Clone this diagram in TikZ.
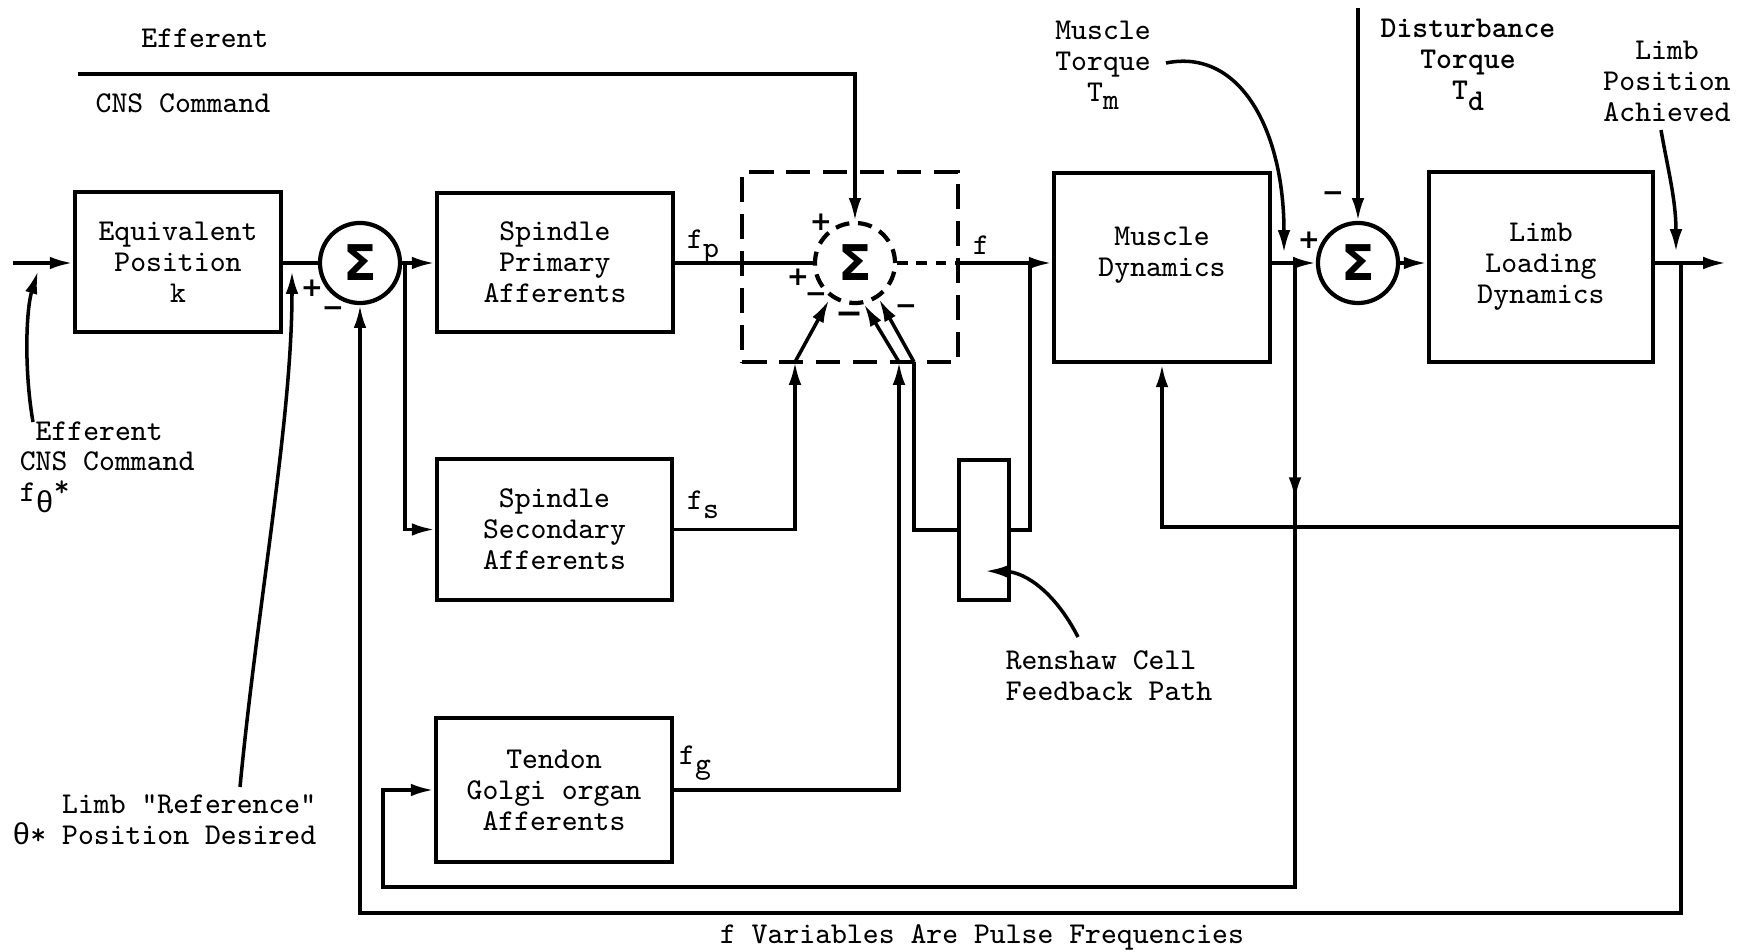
\documentclass[tikz,border=0pt]{standalone}
\usepackage{fontspec}
\newfontfamily\sigfont{DejaVu Sans}
\newfontfamily\gkfont{Liberation Mono}
\usetikzlibrary{arrows.meta,calc}
\begin{document}
\begin{tikzpicture}[x=0.01cm,y=-0.01cm,
  line width=1pt,
  every node/.style={font=\ttfamily\fontsize{8.6}{8.8}\selectfont, inner sep=0pt},
  blk/.style={draw, line width=1.3pt, align=center},
  sumc/.style={circle, draw, line width=1.2pt, minimum size=0.8cm, inner sep=0pt, font=\sigfont\bfseries\fontsize{14}{14}\selectfont},
  arr/.style={-{Latex[length=6.5pt,width=3.6pt]}},
  sgn/.style={font=\sigfont\bfseries\fontsize{7.5}{7.5}\selectfont},
  bigsgn/.style={font=\sigfont\bfseries\fontsize{9.5}{9.5}\selectfont},
  dashbox/.style={draw, line width=1.2pt, dash pattern=on 7pt off 3.5pt}
]
\useasboundingbox (0,0) rectangle (1750,952);

% blocks
\node[blk, minimum width=2.06cm, minimum height=1.40cm] (eq) at (178,262) {Equivalent\\Position\\k};
\node[blk, minimum width=2.36cm, minimum height=1.39cm] (spp) at (555,262.5) {Spindle\\Primary\\Afferents};
\node[blk, minimum width=2.35cm, minimum height=1.41cm] (sps) at (554.5,529.5) {Spindle\\Secondary\\Afferents};
\node[blk, minimum width=2.36cm, minimum height=1.44cm] (tgo) at (554,790) {Tendon\\Golgi organ\\Afferents};
\node[blk, minimum width=2.16cm, minimum height=1.89cm] (md) at (1162,267.5) {Muscle\\Dynamics\\\ };
\node[blk, minimum width=2.24cm, minimum height=1.90cm] (ll) at (1541,267) {Limb\\Loading\\Dynamics};
\node[blk, minimum width=0.50cm, minimum height=1.40cm] (rs) at (984,530) {};
\node[dashbox, minimum width=2.16cm, minimum height=1.90cm] (grp) at (850,267) {};

% summing junctions
\node[sumc] (s1) at (360,263) {Σ};
\node[sumc, dash pattern=on 4pt off 2.5pt] (s2) at (855,263) {Σ};
\node[sumc] (s3) at (1358,263) {Σ};

% signs
\node[sgn] (p1) at (312,288) {+};
\node[sgn] (m1) at (333,312) {−};
\node[sgn] (p2a) at (821,222) {+};
\node[sgn] (p2b) at (798,277) {+};
\node[sgn] (m2a) at (816,298) {−};
\node[bigsgn] (m2b) at (849,318) {−};
\node[sgn] (m2c) at (906,310) {−};
\node[sgn] (p3) at (1309,240) {+};
\node[sgn] (m3) at (1333,197) {−};

% coordinates
\coordinate (in) at (13,263);
\coordinate (b1) at (405,263);
\coordinate (qs) at (795,362);
\coordinate (qg) at (899,362);
\coordinate (qr) at (914,362);
\coordinate (ts) at (829,300);
\coordinate (tg) at (864,304);
\coordinate (tr) at (879,299);
\coordinate (b2) at (1030,263);
\coordinate (cns) at (78,74);
\coordinate (out) at (1726,263);
\coordinate (dt) at (1358,8);
\coordinate (b3) at (1295,263);
\coordinate (c3) at (383,887);
\coordinate (b4) at (1681,263);
\coordinate (c4) at (360,913);
\coordinate (c5) at (1681,527);

% main path
\draw[arr] (in) -- (in -| eq.west);
\draw (eq.east |- s1) -- (s1.west);
\draw[arr] (s1.east) -- (s1 -| spp.west);
\draw[arr] (b1) |- (sps.west);
\draw (spp.east |- s2) -- (s2.west);
\draw[arr] (sps.east) -| (qs);
\draw[arr] (qs) -- (ts);
\draw[arr] (tgo.east) -| (qg);
\draw[arr] (qg) -- (tg);
\draw (b2) |- (rs.east);
\draw (rs.west) -| (qr);
\draw[arr] (qr) -- (tr);
\draw[dash pattern=on 3pt off 2.5pt] (s2.east) -- (s2 -| grp.east);
\draw[arr] (s2 -| grp.east) -- (s2 -| md.west);
\draw[arr] (cns) -| (s2.north);
\draw[arr] (md.east |- s3) -- (s3.west);
\draw[arr] (s3.east) -- (s3 -| ll.west);
\draw[arr] (ll.east |- s3) -- (out);
\draw[arr] (dt) -- (s3.north);
\draw[arr] (b3) -- ($(b3)!0.38!(b3 |- c3)$);
\draw[arr] (b3) |- (c3) |- (tgo.west);
\draw[arr] (b4) |- (c4) -- (s1.south);
\draw[arr] (c5) -| (md.south);

% signal labels
\node (fp) at (703,247) {f\raisebox{-0.7ex}{p}};
\node (fs) at (703,505) {f\raisebox{-0.7ex}{s}};
\node (fg) at (695,763) {f\raisebox{-0.7ex}{g}};
\node (f) at (981,245) {f};

% annotations
\node (eff) at (205,38) {Efferent};
\node (cnsc) at (183,103) {CNS Command};
\node[anchor=west, align=left] (eft) at (18,467) {\ Efferent\\CNS Command\\f\raisebox{-0.8ex}{\gkfont θ}\raisebox{0.4ex}{*}};
\coordinate (ef) at (33,422);
\draw[arr] (ef) .. controls (24,370) and (26,310) .. (38,271);

\node[anchor=east, align=right] (rft) at (318,820) {Limb "Reference"\\{\gkfont θ}* Position Desired};
\coordinate (rf) at (240,787);
\draw[arr] (rf) .. controls (258,600) and (292,420) .. (292,271);

\node[align=center] (mt) at (1103,65) {Muscle\\Torque\\T\raisebox{-0.6ex}{m}};
\coordinate (mts) at (1166,63);
\draw[arr] (mts) .. controls (1240,48) and (1284,130) .. (1284,253);

\node[align=center] (dtt) at (1468,65) {\bfseries Disturbance\\\bfseries Torque\\\bfseries T\raisebox{-0.8ex}{d}};

\node[align=center] (lpa) at (1667,81) {Limb\\Position\\Achieved};
\coordinate (lps) at (1661,130);
\draw[arr] (lps) .. controls (1668,170) and (1676,200) .. (1676,252);

\node[anchor=west, align=left] (rst) at (1004,676) {Renshaw Cell\\Feedback Path};
\coordinate (rss) at (1078,637);
\draw[arr] (rss) .. controls (1055,592) and (1025,572) .. (985,571);

\node (fv) at (982,937) {f Variables Are Pulse Frequencies};
\end{tikzpicture}
\end{document}
